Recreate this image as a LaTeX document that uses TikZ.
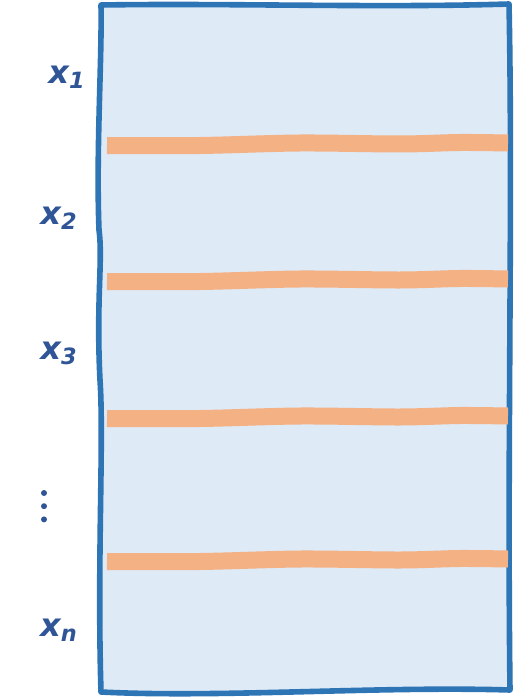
\documentclass[tikz,border=0pt]{standalone}
\usepackage{fontspec}
\newfontfamily\lblfont{DejaVu Sans}
\usetikzlibrary{positioning}
\definecolor{frameblue}{HTML}{2E75B6}
\definecolor{cellfill}{HTML}{DEEAF6}
\definecolor{bandorange}{HTML}{F4B183}
\definecolor{lblblue}{HTML}{2F5597}
\tikzset{
  frame/.style={
    draw=frameblue,
    fill=cellfill,
    line width=2.8pt,
    line join=round
  },
  band/.style={
    draw=bandorange,
    line width=8.5pt
  },
  lbl/.style={
    text=lblblue,
    font=\lblfont\bfseries\itshape\fontsize{16}{16}\selectfont,
    inner sep=0pt
  },
  dot/.style={
    circle,
    fill=lblblue,
    inner sep=0pt,
    minimum size=3pt
  }
}

\begin{document}
\begin{tikzpicture}[x=0.5pt,y=-0.5pt]
    \useasboundingbox (0,0) rectangle (515,700);

    % outer sheet
    \path[frame] (101,5) .. controls (230,3) and (380,8) .. (509,4)
        .. controls (513,200) and (507,450) .. (510,690)
        .. controls (380,686) and (220,698) .. (101,692)
        .. controls (97,560) and (104,440) .. (100,380)
        .. controls (96,300) and (103,260) .. (99,230)
        .. controls (96,150) and (102,60) .. cycle;

    % separators
    \foreach \c in {144,280,417,560} {
        \draw[band] plot[smooth] coordinates {(107,\c+1.5) (200,\c+1.5) (300,\c-1) (400,\c) (460,\c-1.5) (508,\c-1)};
    }

    % labels
    \node[lbl] (x1) at (67,77) {x\textsubscript{1}};
    \node[lbl] (x2) at (59,218) {x\textsubscript{2}};
    \node[lbl] (x3) at (59,353) {x\textsubscript{3}};
    \node[lbl] (xn) at (59,630) {x\textsubscript{n}};

    \node[dot] (d1) at (44,493) {};
    \node[dot, below=3.2pt of d1] (d2) {};
    \node[dot, below=3.2pt of d2] (d3) {};
\end{tikzpicture}
\end{document}
